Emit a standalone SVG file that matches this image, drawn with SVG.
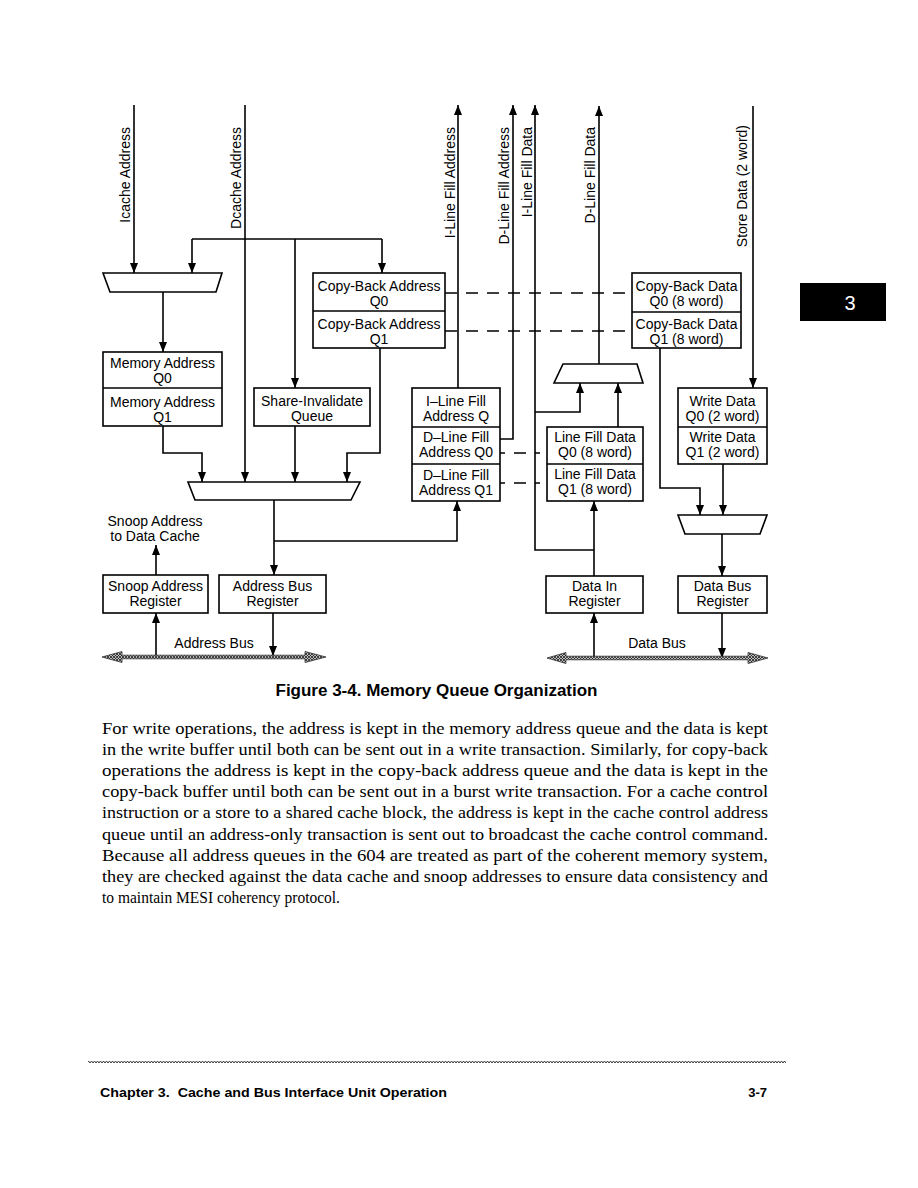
<svg xmlns="http://www.w3.org/2000/svg" width="918" height="1188" viewBox="0 0 918 1188">
<style>
.bx{fill:#fff;stroke:#000;stroke-width:1.6}
.ln{fill:none;stroke:#000;stroke-width:1.6}
.ar{fill:none;stroke:#000;stroke-width:1.6;marker-end:url(#ah)}
.ds{fill:none;stroke:#000;stroke-width:1.6;stroke-dasharray:12 9}
.t{font-family:"Liberation Sans",Arial,sans-serif;font-size:14px;fill:#000;text-anchor:middle}
.v{font-family:"Liberation Sans",Arial,sans-serif;font-size:14px;fill:#000;text-anchor:end}
.p{font-family:"Liberation Serif","Times New Roman",serif;font-size:17px;fill:#000}
.b{font-family:"Liberation Sans",Arial,sans-serif;font-weight:bold;fill:#000}
.bus{fill:url(#hatch);stroke:#333;stroke-width:0.8}
</style>
<defs>
<marker id="ah" markerUnits="userSpaceOnUse" markerWidth="10" markerHeight="8" refX="10" refY="4" orient="auto">
<path d="M0,0 L10,4 L0,8 z" fill="#000"/>
</marker>
<pattern id="hatch" width="3" height="3" patternUnits="userSpaceOnUse">
<rect width="3" height="3" fill="#bbb"/>
<path d="M0,0 L3,3 M3,0 L0,3" stroke="#222" stroke-width="0.8"/>
</pattern>
<pattern id="wave" width="3" height="4" patternUnits="userSpaceOnUse">
<path d="M0,3 L1.5,1 L3,3" fill="none" stroke="#222" stroke-width="0.9"/>
</pattern>
</defs>

<g id="connectors">
<line class="ar" x1="134" y1="105" x2="134" y2="273"/>
<line class="ar" x1="245" y1="105" x2="245" y2="482"/>
<line class="ln" x1="192" y1="239" x2="382" y2="239"/>
<line class="ar" x1="192" y1="239" x2="192" y2="273"/>
<line class="ar" x1="382" y1="239" x2="382" y2="273"/>
<line class="ar" x1="295" y1="239" x2="295" y2="388"/>
<line class="ar" x1="163" y1="292" x2="163" y2="352"/>
<polyline class="ar" points="163,426 163,453 202,453 202,482"/>
<line class="ar" x1="295" y1="426" x2="295" y2="482"/>
<polyline class="ar" points="380,348 380,453 347,453 347,482"/>
<line class="ar" x1="274" y1="500" x2="274" y2="575"/>
<polyline class="ar" points="274,541 457,541 457,501"/>
<line class="ar" x1="156" y1="575" x2="156" y2="545"/>
<line class="ar" x1="156" y1="657" x2="156" y2="613"/>
<line class="ar" x1="273" y1="613" x2="273" y2="656"/>
<line class="ar" x1="458" y1="388" x2="458" y2="105"/>
<polyline class="ar" points="500,439 513,439 513,105"/>
<polyline class="ar" points="594,550 535,550 535,105"/>
<polyline class="ar" points="535,412 580,412 580,383"/>
<line class="ar" x1="618" y1="427" x2="618" y2="383"/>
<line class="ar" x1="599" y1="364" x2="599" y2="106"/>
<line class="ar" x1="594" y1="576" x2="594" y2="501"/>
<line class="ar" x1="594" y1="658" x2="594" y2="613"/>
<line class="ar" x1="722" y1="613" x2="722" y2="658"/>
<line class="ar" x1="722" y1="534" x2="722" y2="576"/>
<line class="ar" x1="723" y1="464" x2="723" y2="515"/>
<polyline class="ar" points="660,348 660,488 700,488 700,515"/>
<line class="ar" x1="753" y1="106" x2="753" y2="388"/>
<line class="ds" x1="445" y1="293" x2="632" y2="293"/>
<line class="ds" x1="445" y1="331" x2="632" y2="331"/>
<line class="ds" x1="500" y1="453" x2="547" y2="453" style="stroke-dasharray:5 9 12 9"/>
<line class="ds" x1="500" y1="483" x2="547" y2="483" style="stroke-dasharray:5 9 12 9"/>
</g>

<g id="labels-top">
<text class="v" x="130" y="127" transform="rotate(-90 130 127)">Icache Address</text>
<text class="v" x="241" y="127" transform="rotate(-90 241 127)">Dcache Address</text>
<text class="v" x="455" y="127" transform="rotate(-90 455 127)">I-Line Fill Address</text>
<text class="v" x="509" y="127" transform="rotate(-90 509 127)">D-Line Fill Address</text>
<text class="v" x="532" y="127" transform="rotate(-90 532 127)">I-Line Fill Data</text>
<text class="v" x="595" y="127" transform="rotate(-90 595 127)">D-Line Fill Data</text>
<text class="v" x="747" y="125" transform="rotate(-90 747 125)">Store Data (2 word)</text>
</g>

<g id="mux-left"><polygon class="bx" points="103,273 222,273 216,292 110,292"/></g>
<g id="mux-bottom"><polygon class="bx" points="188,482 360,482 351,500 195,500"/></g>
<g id="mux-upper-right"><polygon class="bx" points="563,364 637,364 643,383 554,383"/></g>
<g id="mux-right"><polygon class="bx" points="678,515 767,515 760,534 685,534"/></g>

<g id="copyback-address">
<rect class="bx" x="313" y="273" width="132" height="75"/>
<line class="ln" x1="313" y1="311" x2="445" y2="311"/>
<text class="t" x="379" y="291">Copy-Back Address</text>
<text class="t" x="379" y="306">Q0</text>
<text class="t" x="379" y="329">Copy-Back Address</text>
<text class="t" x="379" y="344">Q1</text>
</g>

<g id="memory-address">
<rect class="bx" x="103" y="352" width="119" height="74"/>
<line class="ln" x1="103" y1="388" x2="222" y2="388"/>
<text class="t" x="162.5" y="368">Memory Address</text>
<text class="t" x="162.5" y="383">Q0</text>
<text class="t" x="162.5" y="407">Memory Address</text>
<text class="t" x="162.5" y="422">Q1</text>
</g>

<g id="share-invalidate">
<rect class="bx" x="254" y="388" width="116" height="38"/>
<text class="t" x="312" y="406">Share-Invalidate</text>
<text class="t" x="312" y="421">Queue</text>
</g>

<g id="line-fill-address">
<rect class="bx" x="412" y="388" width="88" height="113"/>
<line class="ln" x1="412" y1="427" x2="500" y2="427"/>
<line class="ln" x1="412" y1="464" x2="500" y2="464"/>
<text class="t" x="456" y="406">I–Line Fill</text>
<text class="t" x="456" y="421">Address Q</text>
<text class="t" x="456" y="442">D–Line Fill</text>
<text class="t" x="456" y="457">Address Q0</text>
<text class="t" x="456" y="480">D–Line Fill</text>
<text class="t" x="456" y="495">Address Q1</text>
</g>

<g id="line-fill-data">
<rect class="bx" x="547" y="427" width="96" height="74"/>
<line class="ln" x1="547" y1="464" x2="643" y2="464"/>
<text class="t" x="595" y="442">Line Fill Data</text>
<text class="t" x="595" y="457">Q0 (8 word)</text>
<text class="t" x="595" y="479">Line Fill Data</text>
<text class="t" x="595" y="494">Q1 (8 word)</text>
</g>

<g id="copyback-data">
<rect class="bx" x="632" y="273" width="109" height="75"/>
<line class="ln" x1="632" y1="312" x2="741" y2="312"/>
<text class="t" x="686.5" y="291">Copy-Back Data</text>
<text class="t" x="686.5" y="306">Q0 (8 word)</text>
<text class="t" x="686.5" y="329">Copy-Back Data</text>
<text class="t" x="686.5" y="344">Q1 (8 word)</text>
</g>

<g id="write-data">
<rect class="bx" x="678" y="388" width="89" height="76"/>
<line class="ln" x1="678" y1="427" x2="767" y2="427"/>
<text class="t" x="722.5" y="406">Write Data</text>
<text class="t" x="722.5" y="421">Q0 (2 word)</text>
<text class="t" x="722.5" y="442">Write Data</text>
<text class="t" x="722.5" y="457">Q1 (2 word)</text>
</g>

<g id="snoop-label">
<text class="t" x="155" y="526">Snoop Address</text>
<text class="t" x="155" y="541">to Data Cache</text>
</g>

<g id="snoop-register">
<rect class="bx" x="103" y="575" width="105" height="38"/>
<text class="t" x="155.5" y="591">Snoop Address</text>
<text class="t" x="155.5" y="606">Register</text>
</g>

<g id="address-bus-register">
<rect class="bx" x="219" y="575" width="107" height="38"/>
<text class="t" x="272.5" y="591">Address Bus</text>
<text class="t" x="272.5" y="606">Register</text>
</g>

<g id="data-in-register">
<rect class="bx" x="546" y="576" width="97" height="37"/>
<text class="t" x="594.5" y="591">Data In</text>
<text class="t" x="594.5" y="606">Register</text>
</g>

<g id="data-bus-register">
<rect class="bx" x="678" y="576" width="89" height="37"/>
<text class="t" x="722.5" y="591">Data Bus</text>
<text class="t" x="722.5" y="606">Register</text>
</g>

<g id="address-bus">
<polygon class="bus" points="102,657 122,651.5 122,655.2 305,655.2 305,651.5 326,657 305,662.5 305,658.8 122,658.8 122,662.5"/>
<text class="t" x="214" y="648">Address Bus</text>
</g>

<g id="data-bus">
<polygon class="bus" points="547,658 566,652.5 566,656.2 748,656.2 748,652.5 768,658 748,663.5 748,659.8 566,659.8 566,663.5"/>
<text class="t" x="657" y="648">Data Bus</text>
</g>

<g id="caption">
<text class="b" x="436.5" y="696" font-size="16" text-anchor="middle" textLength="322" lengthAdjust="spacingAndGlyphs">Figure 3-4. Memory Queue Organization</text>
</g>

<g id="paragraph">
<text class="p" x="102" y="734" textLength="666" lengthAdjust="spacingAndGlyphs">For write operations, the address is kept in the memory address queue and the data is kept</text>
<text class="p" x="102" y="755" textLength="666" lengthAdjust="spacingAndGlyphs">in the write buffer until both can be sent out in a write transaction. Similarly, for copy-back</text>
<text class="p" x="102" y="776" textLength="666" lengthAdjust="spacingAndGlyphs">operations the address is kept in the copy-back address queue and the data is kept in the</text>
<text class="p" x="102" y="797" textLength="666" lengthAdjust="spacingAndGlyphs">copy-back buffer until both can be sent out in a burst write transaction. For a cache control</text>
<text class="p" x="102" y="818" textLength="666" lengthAdjust="spacingAndGlyphs">instruction or a store to a shared cache block, the address is kept in the cache control address</text>
<text class="p" x="102" y="840" textLength="666" lengthAdjust="spacingAndGlyphs">queue until an address-only transaction is sent out to broadcast the cache control command.</text>
<text class="p" x="102" y="861" textLength="666" lengthAdjust="spacingAndGlyphs">Because all address queues in the 604 are treated as part of the coherent memory system,</text>
<text class="p" x="102" y="882" textLength="666" lengthAdjust="spacingAndGlyphs">they are checked against the data cache and snoop addresses to ensure data consistency and</text>
<text class="p" x="102" y="903" textLength="238" lengthAdjust="spacingAndGlyphs">to maintain MESI coherency protocol.</text>
</g>

<g id="footer">
<rect x="88" y="1061" width="698" height="4" fill="url(#wave)"/>
<text class="b" x="100" y="1097" font-size="13" textLength="347" lengthAdjust="spacingAndGlyphs">Chapter 3.&#160; Cache and Bus Interface Unit Operation</text>
<text class="b" x="767" y="1097" font-size="13" text-anchor="end">3-7</text>
</g>

<g id="chapter-tab">
<rect x="800" y="283" width="86" height="38" fill="#000"/>
<text x="850" y="310" font-family="Liberation Sans,Arial,sans-serif" font-size="20" fill="#fff" text-anchor="middle">3</text>
</g>
</svg>
